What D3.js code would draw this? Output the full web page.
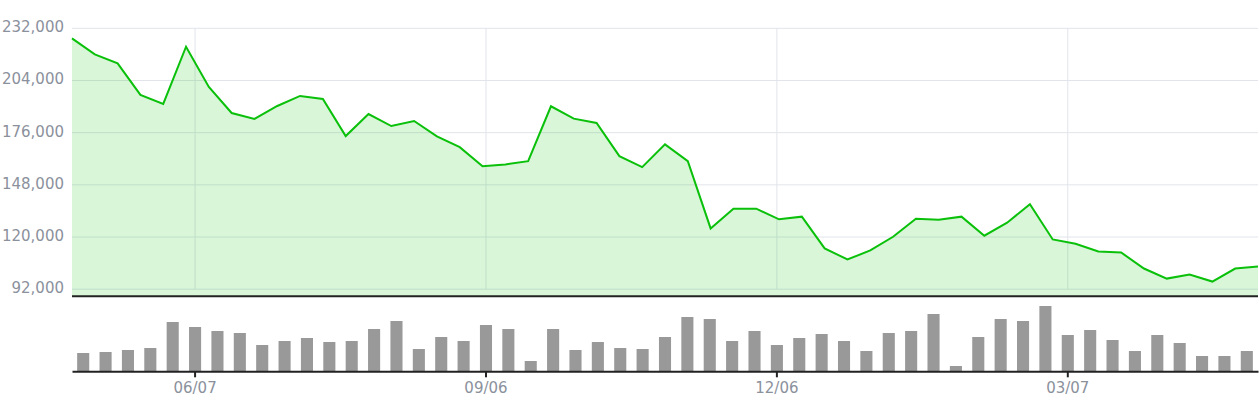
<!DOCTYPE html>
<html>
<head>
<meta charset="utf-8">
<script src="https://cdn.jsdelivr.net/npm/d3@7"></script>
<style>
  html, body { margin: 0; padding: 0; background: #fff; }
  svg { display: block; }
  text { font-family: "DejaVu Sans", Verdana, sans-serif; }
</style>
</head>
<body>
<svg id="chart" width="1259" height="400"></svg>
<script>
const dates = ["05/03","05/10","05/17","05/24","05/31","06/07","06/14","06/21","06/28","07/05",
  "07/12","07/19","07/26","08/02","08/09","08/16","08/23","08/30","09/06","09/13",
  "09/20","09/27","10/04","10/11","10/18","10/25","11/01","11/08","11/15","11/22",
  "11/29","12/06","12/13","12/20","12/27","01/03","01/10","01/17","01/24","01/31",
  "02/07","02/14","02/21","02/28","03/07","03/14","03/21","03/28","04/04","04/11",
  "04/18","04/25","05/02"];

const prices = [226600,218000,213150,196250,191400,222100,200550,186550,183350,190330,
  195700,194100,174170,186000,179550,182250,174000,168250,158000,158930,
  160700,190160,183540,181200,163400,157500,169700,160700,124630,135240,
  135240,129500,130930,113900,107950,112800,120160,129850,129300,130930,
  120700,127700,137570,118700,116400,112240,111700,103100,97700,99850,
  96100,103100,104200];

const volumes = [18.3,19.3,21.3,23.3,49.3,44.3,40.3,38.3,26.3,30.3,
  33.3,29.3,30.3,42.3,50.3,22.3,34.3,30.3,46.3,42.3,
  10.3,42.3,21.3,29.3,23.3,22.3,34.3,54.3,52.3,30.3,
  40.3,26.3,33.3,37.3,30.3,20.3,38.3,40.3,57.3,5.3,
  34.3,52.3,50.3,65.3,36.3,41.3,31.3,20.3,36.3,28.3,
  15.3,15.3,20.3];

const priceTicks = [92000,120000,148000,176000,204000,232000];
const xTickLabels = ["06/07","09/06","12/06","03/07"];
const priceFloor = 88200;

const svg = d3.select("#chart");
const left = 72, right = 1258;

const xPoint = d3.scalePoint().domain(dates).range([left, right]).padding(0);
const xBand = d3.scaleBand().domain(dates).range([left, right]).paddingInner(0.46).paddingOuter(0.23);
const y = d3.scaleLinear().domain([priceFloor, 232000]).range([296.3, 28.3]);
const yVol = d3.scaleLinear().domain([0, 70]).range([371.3, 301.3]);

const fmt = d3.format(",");
const gridColor = "#e1e4ea";
const textColor = "#8b919c";

// horizontal gridlines
svg.append("g").selectAll("line").data(priceTicks).join("line")
  .attr("x1", left).attr("x2", right)
  .attr("y1", d => y(d)).attr("y2", d => y(d))
  .attr("stroke", gridColor).attr("stroke-width", 1);

// vertical gridlines
svg.append("g").selectAll("line").data(xTickLabels).join("line")
  .attr("x1", d => xBand(d) + xBand.bandwidth() / 2)
  .attr("x2", d => xBand(d) + xBand.bandwidth() / 2)
  .attr("y1", y(232000)).attr("y2", y(92000))
  .attr("stroke", gridColor).attr("stroke-width", 1);

// y labels
svg.append("g").selectAll("text").data(priceTicks).join("text")
  .attr("x", 64).attr("y", d => y(d) - 1)
  .attr("text-anchor", "end").attr("dominant-baseline", "central")
  .attr("font-size", "15px").attr("fill", textColor)
  .text(d => fmt(d));

// area
const area = d3.area()
  .x((d, i) => xPoint(dates[i]))
  .y0(y(priceFloor))
  .y1(d => y(d));
svg.append("path").datum(prices)
  .attr("d", area)
  .attr("fill", "rgba(0,192,0,0.15)");

// line
const line = d3.line()
  .x((d, i) => xPoint(dates[i]))
  .y(d => y(d));
svg.append("path").datum(prices)
  .attr("d", line)
  .attr("fill", "none")
  .attr("stroke", "#0ac00a")
  .attr("stroke-width", 2)
  .attr("stroke-linejoin", "miter");

// price baseline
svg.append("line")
  .attr("x1", left).attr("x2", right)
  .attr("y1", y(priceFloor)).attr("y2", y(priceFloor))
  .attr("stroke", "#222").attr("stroke-width", 2);

// volume bars
svg.append("g").selectAll("rect").data(volumes).join("rect")
  .attr("x", (d, i) => xBand(dates[i]))
  .attr("width", xBand.bandwidth())
  .attr("y", d => yVol(d))
  .attr("height", d => yVol(0) - yVol(d))
  .attr("fill", "#999999");

// volume x axis
const xAxis = d3.axisBottom(xBand).tickValues(xTickLabels).tickSize(6).tickSizeOuter(0).tickPadding(5);
const gx = svg.append("g").attr("transform", `translate(0,${yVol(0)})`).call(xAxis);
gx.select(".domain").attr("stroke", "#222").attr("stroke-width", 2);
gx.selectAll(".tick line").attr("stroke", "#222").attr("stroke-width", 2);
gx.selectAll(".tick text").attr("font-size", "15px").attr("fill", textColor)
  .attr("font-family", "DejaVu Sans, Verdana, sans-serif");
</script>
</body>
</html>
